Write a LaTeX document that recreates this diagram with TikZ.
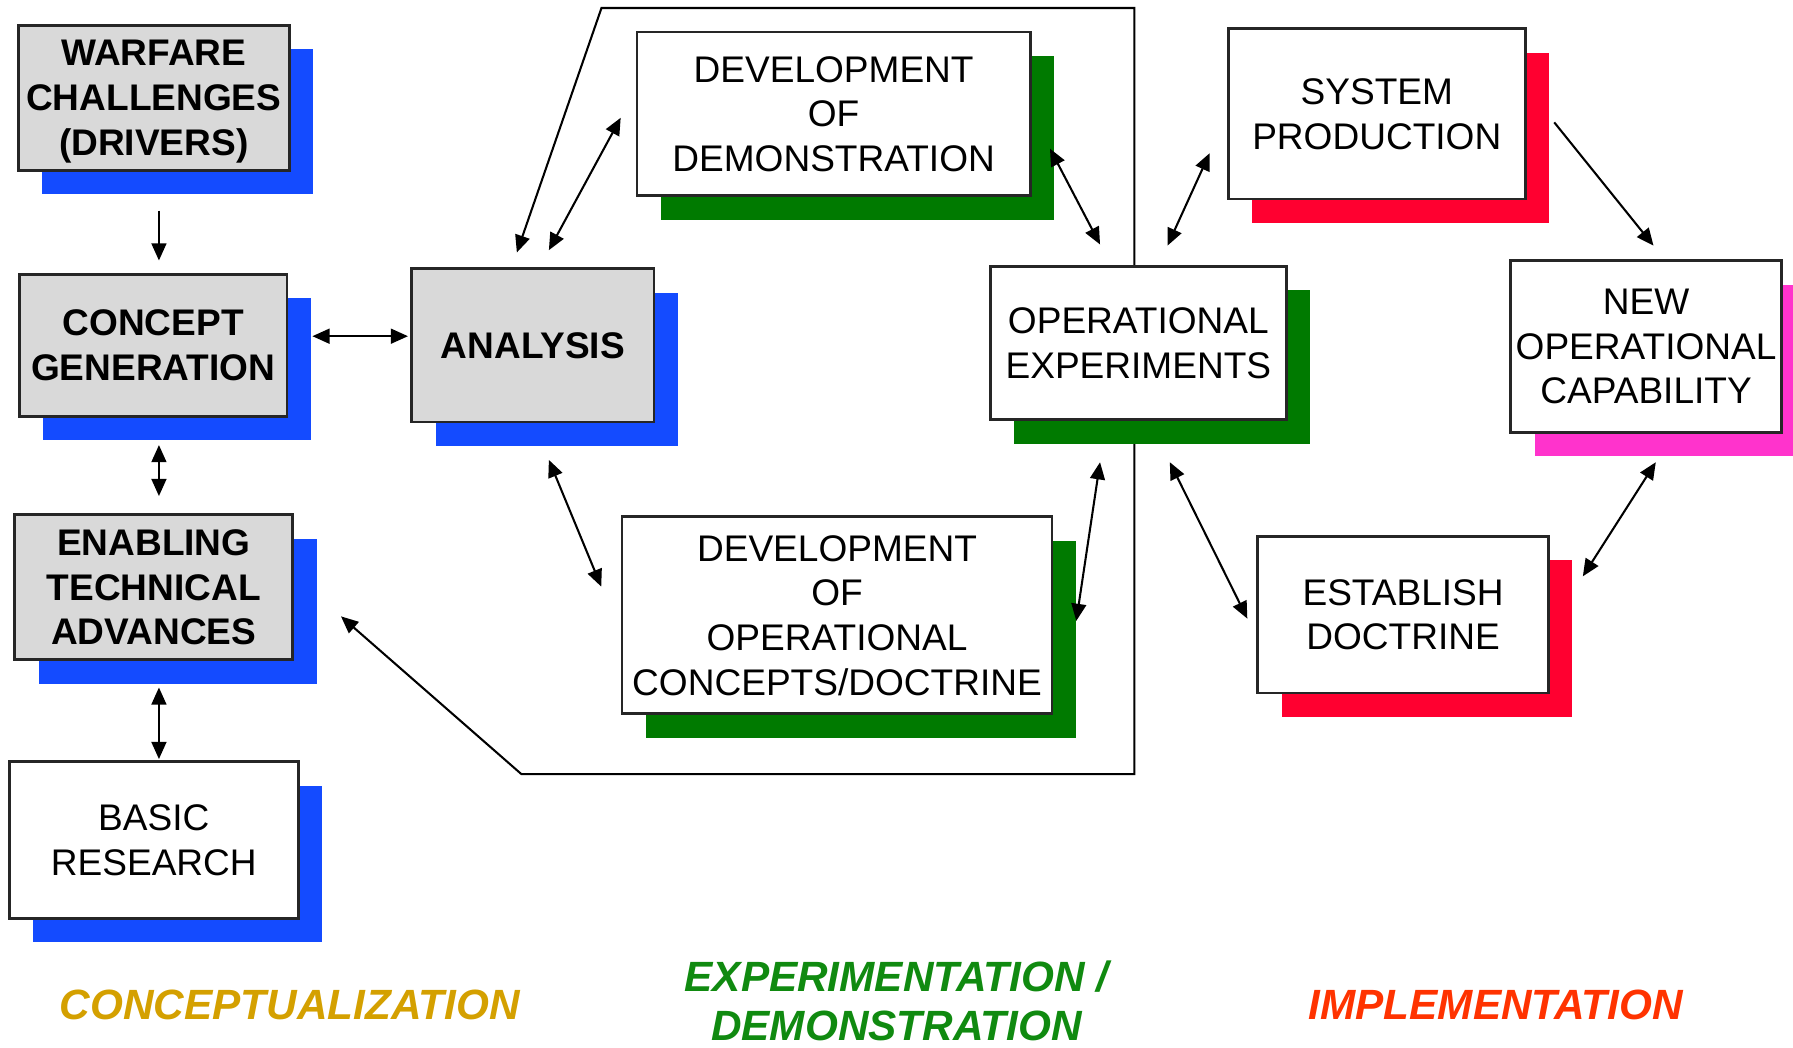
\documentclass[tikz,border=0pt]{standalone}
\usepackage{fontspec}
\setmainfont{Liberation Sans}
\usetikzlibrary{arrows.meta,shadows,backgrounds}
\definecolor{shblue}{HTML}{144BFF}
\definecolor{shgreen}{HTML}{007A00}
\definecolor{shred}{HTML}{FF0030}
\definecolor{shmag}{HTML}{FF33CC}
\definecolor{boxgray}{HTML}{D9D9D9}
\definecolor{goldtxt}{HTML}{D4A000}
\definecolor{greentxt}{HTML}{108A10}
\definecolor{orangetxt}{HTML}{FF3300}
\begin{document}
\begin{tikzpicture}[x=0.5pt,y=-0.5pt,
  box/.style={draw=black!85, line width=1.2pt, inner sep=0pt, align=center, text depth=0pt,
    font=\fontsize{16.2}{19.5}\selectfont},
  graybox/.style={box, fill=boxgray, font=\fontsize{16.2}{19.5}\selectfont\bfseries},
  whitebox/.style={box, fill=white},
  shad/.style={drop shadow={shadow xshift=10.5pt, shadow yshift=-10.5pt, fill=#1, opacity=1, draw=none}},
  arr/.style={line width=0.9pt, -{Triangle[length=7.5pt,width=6.5pt]}},
  darr/.style={line width=0.9pt, {Triangle[length=7.5pt,width=6.5pt]}-{Triangle[length=7.5pt,width=6.5pt]}},
  phase/.style={font=\fontsize{18.5}{21.5}\selectfont\bfseries\itshape, inner sep=0pt, align=center}
]
\useasboundingbox (0,0) rectangle (1568,916);

% boxes
\node[graybox, shad=shblue, minimum width=118.5pt, minimum height=63.5pt] (warf) at (134.5,85.5) {WARFARE\\CHALLENGES\\(DRIVERS)};
\node[graybox, shad=shblue, minimum width=117pt, minimum height=62pt] (conc) at (134,302) {CONCEPT\\GENERATION};
\node[graybox, shad=shblue, minimum width=121.5pt, minimum height=63.5pt] (enab) at (134.5,513.5) {ENABLING\\TECHNICAL\\ADVANCES};
\node[whitebox, shad=shblue, minimum width=126.5pt, minimum height=68.5pt] (basic) at (134.5,734.5) {BASIC\\RESEARCH};
\node[graybox, shad=shblue, minimum width=106pt, minimum height=67pt] (ana) at (466,302) {ANALYSIS};
\node[whitebox, shad=shgreen, minimum width=172pt, minimum height=71.5pt] (demo) at (729,99.5) {DEVELOPMENT\\OF\\DEMONSTRATION};
\node[whitebox, shad=shgreen, minimum width=188pt, minimum height=86pt] (opsc) at (732,538) {DEVELOPMENT\\OF\\OPERATIONAL\\CONCEPTS/DOCTRINE};
\node[whitebox, shad=shgreen, minimum width=129.5pt, minimum height=67pt] (opex) at (995.5,300) {OPERATIONAL\\EXPERIMENTS};
\node[whitebox, shad=shred, minimum width=130pt, minimum height=74.5pt] (sysp) at (1204,99.5) {SYSTEM\\PRODUCTION};
\node[whitebox, shad=shmag, minimum width=118.5pt, minimum height=75pt] (newc) at (1439.5,303) {NEW\\OPERATIONAL\\CAPABILITY};
\node[whitebox, shad=shred, minimum width=127pt, minimum height=68.5pt] (estd) at (1227,537.5) {ESTABLISH\\DOCTRINE};

% phase labels
\node[phase, text=goldtxt] (p1) at (253.5,879) {CONCEPTUALIZATION};
\node[phase, text=greentxt] (p2) at (784,875) {EXPERIMENTATION /\\DEMONSTRATION};
\node[phase, text=orangetxt] (p3) at (1308,879) {IMPLEMENTATION};

% feedback loop (behind boxes)
\coordinate (l1) at (526,7);
\coordinate (l2) at (992,7);
\coordinate (l3) at (992,677);
\coordinate (l4) at (456,677);
\begin{scope}[on background layer]
\draw[darr] ([shift={(-14,-13)}]ana.north) -- (l1) -- (l2) -- (l3) -- (l4) -- ([shift={(41,25.5)}]enab.east);
\end{scope}

% connectors
\draw[arr]  ([shift={(4.5,34)}]warf.south) -- ([shift={(5,-11)}]conc.north);
\draw[darr] ([shift={(21,-8)}]conc.east) -- ([shift={(-2,-8)}]ana.west);
\draw[darr] ([shift={(5,24)}]conc.south) -- ([shift={(4.5,-15)}]enab.north);
\draw[darr] ([shift={(4.5,23)}]enab.south) -- ([shift={(4.5,-1)}]basic.north);
\draw[darr] ([shift={(14,-15)}]ana.north) -- ([shift={(-13,3.5)}]demo.west);
\draw[darr] ([shift={(14,32)}]ana.south) -- ([shift={(-17,-25)}]opsc.west);
\draw[darr] ([shift={(16,30.5)}]demo.east) -- ([shift={(-33.5,-18)}]opex.north);
\draw[darr] ([shift={(20,5)}]opsc.east) -- ([shift={(-33.5,36)}]opex.south);
\draw[darr] ([shift={(25.5,-17)}]opex.north) -- ([shift={(-15,34.5)}]sysp.west);
\draw[darr] ([shift={(27.5,36)}]opex.south) -- ([shift={(-8,3.5)}]estd.west);
\draw[arr]  ([shift={(24,7.5)}]sysp.east) -- ([shift={(6.5,-12)}]newc.north);
\draw[darr] ([shift={(8.5,25)}]newc.south) -- ([shift={(29,-33.5)}]estd.east);
\end{tikzpicture}
\end{document}
